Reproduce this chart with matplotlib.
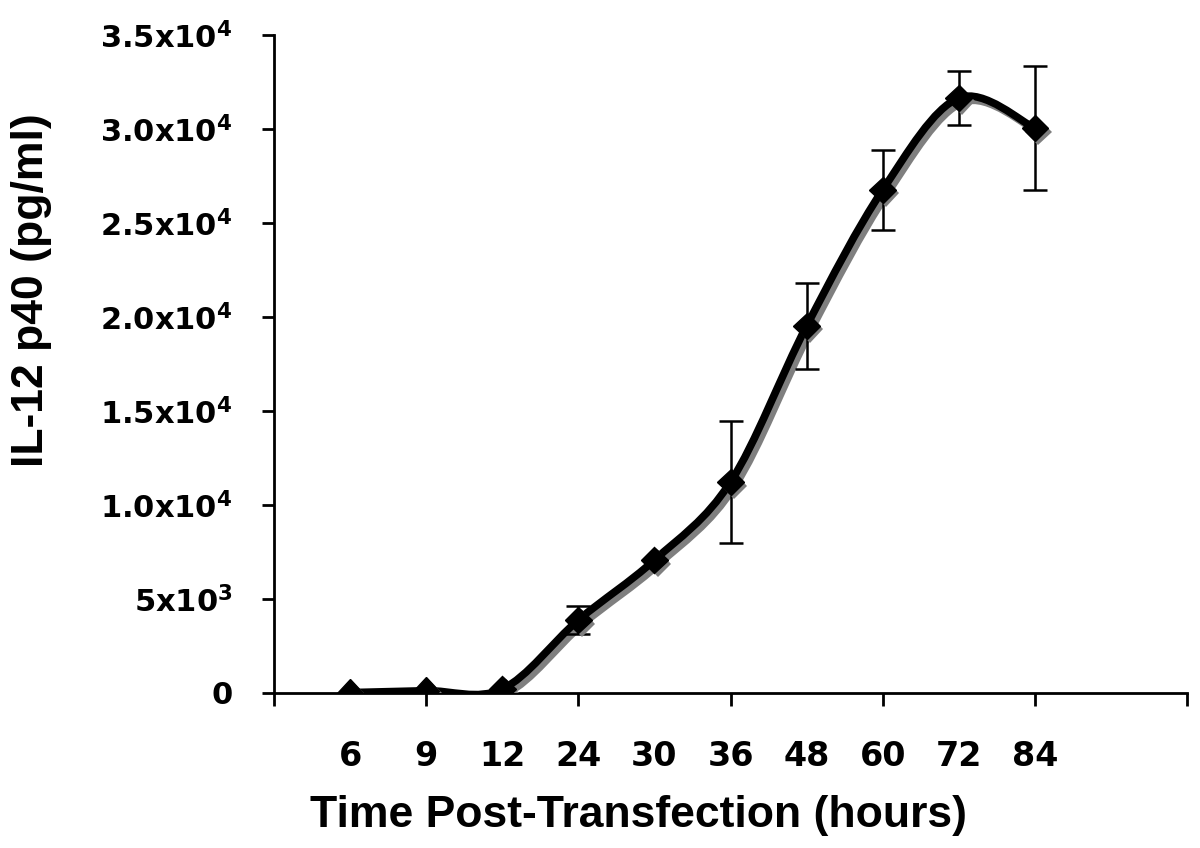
import numpy as np
import matplotlib
matplotlib.use("Agg")
import matplotlib.pyplot as plt
import matplotlib.patheffects as pe
from matplotlib.path import Path
from matplotlib.patches import PathPatch

# Data
hours = ["6", "9", "12", "24", "30", "36", "48", "60", "72", "84"]
il12 = [20, 120, 210, 3880, 7070, 11220, 19520, 26760, 31650, 30050]
il12_err = [0, 0, 0, 750, 0, 3250, 2280, 2130, 1450, 3320]
y_ticks = [0, 5000, 10000, 15000, 20000, 25000, 30000, 35000]
y_tick_labels = ["0", r"$\mathbf{5x10^3}$", r"$\mathbf{1.0x10^4}$", r"$\mathbf{1.5x10^4}$",
                 r"$\mathbf{2.0x10^4}$", r"$\mathbf{2.5x10^4}$", r"$\mathbf{3.0x10^4}$",
                 r"$\mathbf{3.5x10^4}$"]

plt.rcParams["mathtext.fontset"] = "dejavusans"

x = np.arange(1, len(hours) + 1)
y = np.array(il12, dtype=float)

fig = plt.figure(figsize=(12, 8.48), dpi=100)
ax = fig.add_axes([274 / 1200, 1 - 693 / 848, (1187 - 274) / 1200, (693 - 35) / 848])

# Excel style smoothed line (cubic Bezier segments, 1/6 tangents)
verts = [(x[0], y[0])]
codes = [Path.MOVETO]
n = len(x)
for i in range(n - 1):
    p0 = np.array([x[max(i - 1, 0)], y[max(i - 1, 0)]])
    p1 = np.array([x[i], y[i]])
    p2 = np.array([x[i + 1], y[i + 1]])
    p3 = np.array([x[min(i + 2, n - 1)], y[min(i + 2, n - 1)]])
    c1 = p1 + (p2 - p0) / 6
    c2 = p2 - (p3 - p1) / 6
    verts += [tuple(c1), tuple(c2), tuple(p2)]
    codes += [Path.CURVE4] * 3
curve = PathPatch(Path(verts, codes), facecolor="none", edgecolor="black",
                  linewidth=5.5, capstyle="round", joinstyle="round", zorder=2,
                  path_effects=[pe.SimpleLineShadow(offset=(3, -3), shadow_color="#7f7f7f", alpha=1),
                                pe.Normal()])
ax.add_patch(curve)

ax.errorbar(x, y, yerr=il12_err, fmt="none", ecolor="black", elinewidth=1.8,
            capsize=8.5, capthick=1.8, zorder=3)
ax.plot(x, y, linestyle="none", marker="D", markersize=13.5, color="black", zorder=4,
        path_effects=[pe.SimplePatchShadow(offset=(2.5, -2.5), shadow_rgbFace="#7f7f7f", alpha=1),
                      pe.Normal()])

ax.set_xlim(0, 12)
ax.set_ylim(0, 35000)

ax.spines["top"].set_visible(False)
ax.spines["right"].set_visible(False)
ax.spines["left"].set_linewidth(2)
ax.spines["bottom"].set_linewidth(2)

ax.xaxis.remove_overlapping_locs = False
ax.set_xticks(np.arange(0, 13, 2))
ax.set_xticklabels([])
ax.set_xticks(x, minor=True)
ax.set_xticklabels(hours, minor=True, fontsize=24, fontweight="bold", family="DejaVu Sans")
ax.tick_params(axis="x", which="major", direction="out", length=9, width=2)
ax.tick_params(axis="x", which="minor", length=0, pad=34)

ax.set_yticks(y_ticks)
ax.set_yticklabels(y_tick_labels, fontsize=22, fontweight="bold", family="DejaVu Sans")
ax.tick_params(axis="y", direction="out", length=9, width=2, pad=21)
for lab in ax.get_yticklabels():
    lab.set_verticalalignment("center_baseline")

fig.text(639 / 1200, 1 - 827 / 848, "Time Post-Transfection (hours)", ha="center", va="baseline",
         fontsize=32, fontweight="bold", family="Liberation Sans")
fig.text(32 / 1200, 1 - 290 / 848, "IL-12 p40 (pg/ml)", ha="center", va="center", rotation=90,
         fontsize=32, fontweight="bold", family="Liberation Sans")

fig.savefig("out.png", dpi=100)
